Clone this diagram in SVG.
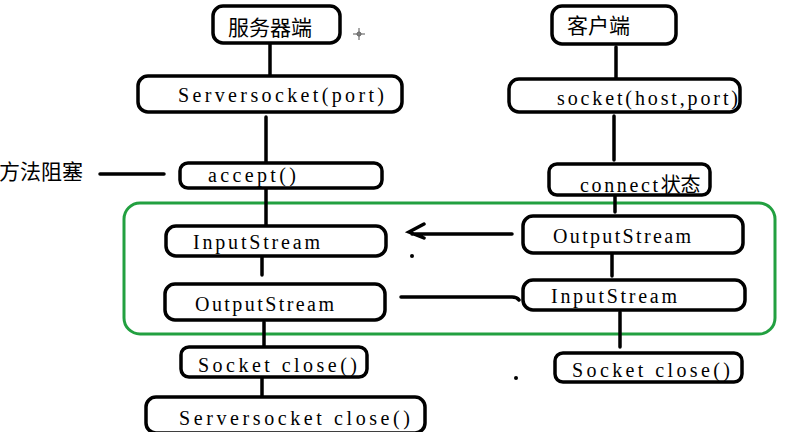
<svg xmlns="http://www.w3.org/2000/svg" width="794" height="432" viewBox="0 0 794 432">
<style>
.box{fill:#fff;stroke:#000;stroke-width:3.5}
.ln{stroke:#000;stroke-width:3.5;fill:none;stroke-linecap:round}
.t{font-family:"Liberation Serif","Noto Sans CJK SC",serif;font-size:20px;fill:#000}
.c{font-family:"Noto Sans CJK SC","Noto Sans CJK JP",sans-serif;font-size:21px;fill:#000}
</style>
<rect width="794" height="432" fill="#fff"/>
<rect x="124" y="203" width="651" height="131" rx="16" fill="none" stroke="#22a040" stroke-width="3"/>
<g id="connectors">
<line class="ln" x1="270" y1="43" x2="270" y2="75"/>
<line class="ln" x1="266" y1="117" x2="266" y2="162"/>
<line class="ln" x1="100" y1="174" x2="164" y2="174"/>
<line class="ln" x1="266" y1="189" x2="266" y2="225"/>
<line class="ln" x1="262" y1="257" x2="262" y2="275"/>
<line class="ln" x1="264" y1="322" x2="264" y2="347"/>
<line class="ln" x1="262" y1="377" x2="262" y2="397"/>
<line class="ln" x1="616" y1="47" x2="616" y2="78"/>
<line class="ln" x1="614" y1="116" x2="614" y2="160"/>
<line class="ln" x1="615" y1="188" x2="615" y2="212"/>
<line class="ln" x1="612" y1="246" x2="612" y2="276"/>
<line class="ln" x1="620" y1="312" x2="620" y2="347"/>
<path class="ln" d="M512 234 L412 234 M424 224 L409 232 L424 238" stroke-width="3"/>
<path class="ln" d="M401 297 L512 297 Q517 297 519 300" stroke-width="3"/>
<circle cx="412" cy="256" r="2" fill="#000"/>
<circle cx="516" cy="378" r="2" fill="#000"/>
<path d="M359 28 L359 40 M353 34 L365 34" stroke="#555" stroke-width="1"/>
<circle cx="359" cy="34" r="2" fill="none" stroke="#555" stroke-width="1"/>
</g>
<g id="server">
<rect class="box" x="213" y="6" width="127" height="37" rx="10"/>
<text class="c" x="228" y="35" font-size="22">服务器端</text>
</g>
<g id="serversocket">
<rect class="box" x="138" y="76" width="264" height="36" rx="10"/>
<text class="t" x="178" y="102" textLength="206" lengthAdjust="spacing">Serversocket(port)</text>
</g>
<g id="accept">
<rect class="box" x="180" y="163" width="202" height="25" rx="8"/>
<text class="t" x="208" y="182" textLength="88" lengthAdjust="spacing">accept()</text>
</g>
<text class="c" x="-1" y="179" font-size="19">方法阻塞</text>
<g id="s-input">
<rect class="box" x="166" y="226" width="220" height="30" rx="10"/>
<text class="t" x="193" y="249" textLength="127" lengthAdjust="spacing">InputStream</text>
</g>
<g id="s-output">
<rect class="box" x="165" y="284" width="220" height="36" rx="10"/>
<text class="t" x="195" y="311" textLength="139" lengthAdjust="spacing">OutputStream</text>
</g>
<g id="s-close">
<rect class="box" x="181" y="347" width="186" height="30" rx="8"/>
<text class="t" x="198" y="372" textLength="159" lengthAdjust="spacing">Socket close()</text>
</g>
<g id="ss-close">
<rect class="box" x="146" y="397" width="279" height="36" rx="10"/>
<text class="t" x="179" y="425" textLength="231" lengthAdjust="spacing">Serversocket close()</text>
</g>
<g id="client">
<rect class="box" x="552" y="6" width="124" height="38" rx="10"/>
<text class="c" x="567" y="33" font-size="22">客户端</text>
</g>
<g id="socket">
<rect class="box" x="509" y="79" width="231" height="33" rx="10"/>
<text class="t" x="557" y="105" textLength="181" lengthAdjust="spacing">socket(host,port)</text>
</g>
<g id="connect">
<rect class="box" x="549" y="164" width="161" height="31" rx="8"/>
<text class="t" x="580" y="192"><tspan textLength="78" lengthAdjust="spacing">connect</tspan><tspan font-family="Noto Sans CJK SC,sans-serif">状态</tspan></text>
</g>
<g id="c-output">
<rect class="box" x="523" y="216" width="220" height="37" rx="10"/>
<text class="t" x="553" y="243" textLength="138" lengthAdjust="spacing">OutputStream</text>
</g>
<g id="c-input">
<rect class="box" x="523" y="280" width="222" height="30" rx="10"/>
<text class="t" x="551" y="303" textLength="126" lengthAdjust="spacing">InputStream</text>
</g>
<g id="c-close">
<rect class="box" x="555" y="353" width="187" height="29" rx="8"/>
<text class="t" x="572" y="377" textLength="158" lengthAdjust="spacing">Socket close()</text>
</g>
</svg>
